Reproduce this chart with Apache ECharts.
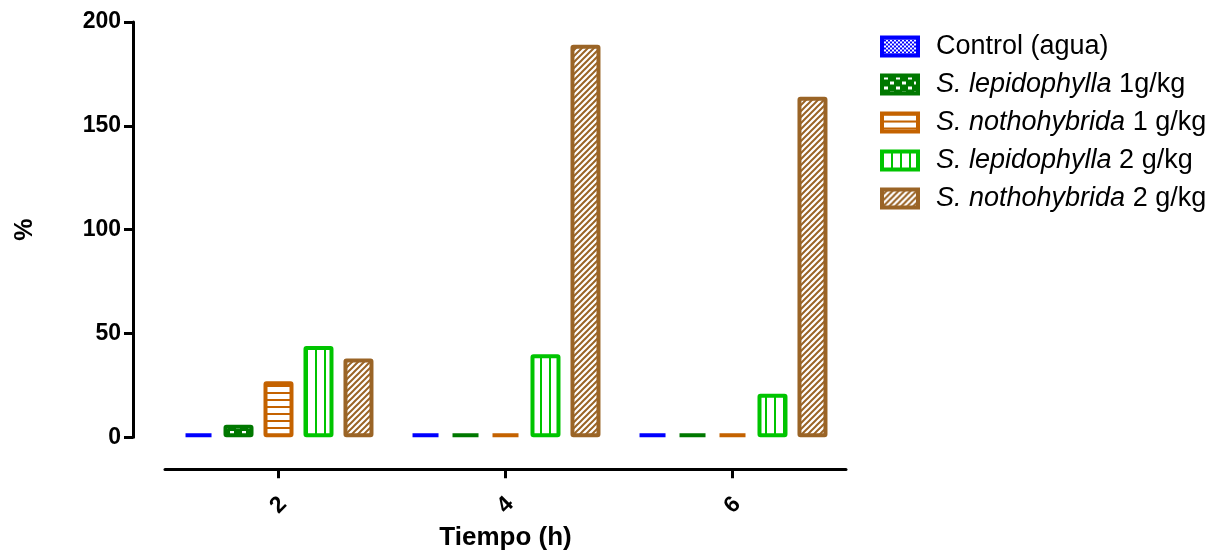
<!DOCTYPE html>
<html><head><meta charset="utf-8">
<script src="https://cdn.jsdelivr.net/npm/echarts@6/dist/echarts.min.js"></script>
<style>html,body{margin:0;padding:0;background:#fff}#c{width:1222px;height:556px}</style>
</head><body><div id="c"></div>
<script>
const categories = ['2', '4', '6'];
const yTicks = [0, 50, 100, 150, 200];
const control = [0, 0, 0];
const slep1 = [6, 0, 0];
const snoth1 = [27, 0, 0];
const slep2 = [44, 40, 21];
const snoth2 = [38, 189, 164];
const seriesNames = ['Control (agua)', 'S. lepidophylla 1g/kg', 'S. nothohybrida 1 g/kg', 'S. lepidophylla 2 g/kg', 'S. nothohybrida 2 g/kg'];
const italicParts = ['', 'S. lepidophylla', 'S. nothohybrida', 'S. lepidophylla', 'S. nothohybrida'];
const xTitle = 'Tiempo (h)';
const yTitle = '%';

const FONT = 'Liberation Sans, Arial, sans-serif';
function pat(w, h, draw) {
  const c = document.createElement('canvas');
  c.width = w; c.height = h;
  const g = c.getContext('2d');
  g.fillStyle = '#fff'; g.fillRect(0, 0, w, h);
  draw(g);
  return { image: c, repeat: 'repeat' };
}
const colors = ['#0000ff', '#007800', '#c46200', '#00c400', '#9a6426'];
const patterns = [
  pat(4, 4, g => { g.fillStyle = colors[0]; g.fillRect(0, 0, 2, 2); g.fillRect(2, 2, 2, 2); }),
  pat(12, 10, g => { g.fillStyle = colors[1]; g.fillRect(0, 0, 12, 10); g.fillStyle = '#fff'; g.fillRect(2, 1, 4, 3); g.fillRect(8, 6, 4, 3); }),
  pat(6, 7, g => { g.fillStyle = colors[2]; g.fillRect(0, 0, 6, 2); }),
  pat(9, 6, g => { g.fillStyle = colors[3]; g.fillRect(0, 0, 2, 6); }),
  pat(6, 6, g => { g.strokeStyle = colors[4]; g.lineWidth = 2; g.beginPath(); g.moveTo(-1, 7); g.lineTo(7, -1); g.moveTo(-1, 1); g.lineTo(1, -1); g.moveTo(5, 7); g.lineTo(7, 5); g.stroke(); })
];
const dataSets = [control, slep1, snoth1, slep2, snoth2];

const series = seriesNames.map((n, i) => ({
  name: n, type: 'bar', data: dataSets[i], barWidth: 30, barGap: '33.3%', barMinHeight: 4,
  itemStyle: { color: patterns[i], borderColor: colors[i], borderWidth: 4, borderRadius: 1 }
}));

const chart = echarts.init(document.getElementById('c'), null, { renderer: 'canvas' });
chart.setOption({
  animation: false,
  grid: { left: 165, right: 376, top: 22, bottom: 113, containLabel: false },
  legend: {
    orient: 'vertical', left: 875, top: 28, itemWidth: 36, itemHeight: 18, itemGap: 11, icon: 'rect',
    data: seriesNames,
    itemStyle: { borderWidth: 4 },
    formatter: function (name) {
      const i = seriesNames.indexOf(name);
      if (!italicParts[i]) return name;
      return '{i|' + italicParts[i] + '}' + name.slice(italicParts[i].length);
    },
    textStyle: {
      fontFamily: FONT, fontSize: 27, color: '#000', lineHeight: 25, padding: [0, 0, 0, 13],
      rich: { i: { fontFamily: FONT, fontSize: 27, fontStyle: 'italic', color: '#000', lineHeight: 25 } }
    }
  },
  xAxis: {
    type: 'category', data: categories, position: 'bottom', offset: 32,
    axisLine: { show: true, onZero: false, lineStyle: { color: '#000', width: 3 } },
    axisTick: { show: true, alignWithLabel: true, length: 9, lineStyle: { color: '#000', width: 3 } },
    axisLabel: { rotate: 45, align: 'center', verticalAlign: 'middle', margin: 36, fontSize: 23, fontWeight: 'bold', color: '#000', fontFamily: FONT },
    name: xTitle, nameLocation: 'middle', nameGap: 52,
    nameTextStyle: { fontSize: 26, fontWeight: 'bold', color: '#000', fontFamily: FONT }
  },
  yAxis: {
    type: 'value', min: yTicks[0], max: yTicks[yTicks.length - 1], interval: yTicks[1] - yTicks[0], offset: 32,
    axisLine: { show: true, lineStyle: { color: '#000', width: 3 } },
    axisTick: { show: true, length: 9, lineStyle: { color: '#000', width: 3 } },
    splitLine: { show: false },
    axisLabel: { margin: 12, fontSize: 23, fontWeight: 'bold', color: '#000', fontFamily: FONT },
    name: yTitle, nameLocation: 'middle', nameGap: 95, nameRotate: 90,
    nameTextStyle: { fontSize: 25, fontWeight: 'bold', color: '#000', fontFamily: FONT }
  },
  series: series
});
</script></body></html>
